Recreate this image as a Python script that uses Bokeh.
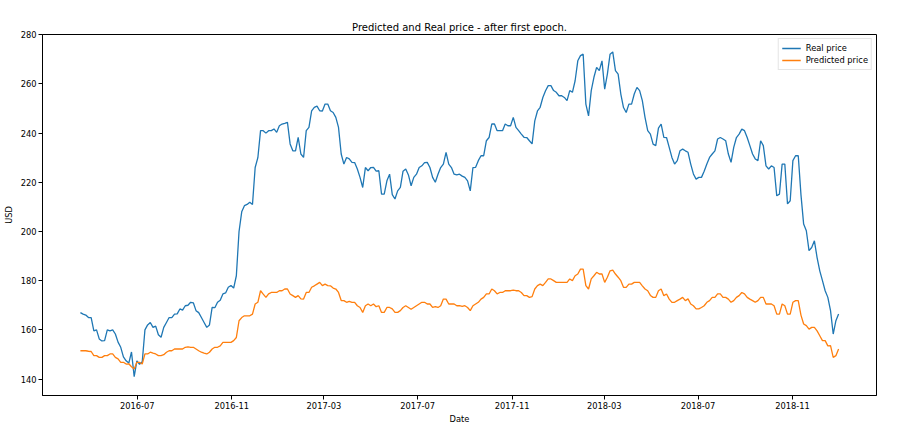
import pandas as pd
from bokeh.plotting import figure
from bokeh.models import Range1d, FixedTicker, DatetimeTickFormatter, Legend, LegendItem
from bokeh.embed import file_html
from bokeh.resources import INLINE

# ---- data (samples every 3.5 days) ----
start_date = "2016-04-18"
real_price = [
    167, 166.4, 166, 165, 165, 159.6, 160, 156.3, 155.5, 155.6,
    160, 159.6, 160, 158.3, 155, 152.9, 149, 147.4, 146.5, 151,
    141, 147.4, 146, 147, 160, 162, 163, 161, 161.5, 158,
    157, 161, 163, 165, 165, 166.4, 166.5, 168.5, 168, 169.8,
    170, 171.2, 171, 167.8, 167, 165, 163, 161, 162, 169.1,
    169, 171.2, 172, 174.6, 175, 177.3, 178, 177, 182, 200,
    208, 210.5, 211, 211.9, 211, 226, 230, 241, 241, 240,
    241, 241, 241.7, 240.3, 243, 243.7, 244, 244.4, 235.6, 232.8,
    232.8, 238.3, 231.5, 230.1, 241, 242.3, 249, 250.5, 251, 249.1,
    249, 251.8, 251.8, 249.1, 248.4, 246.4, 242.3, 231.5, 227.4, 230.1,
    229.5, 228.1, 228, 225.4, 222, 217.9, 226, 224.7, 226, 226.1,
    224.5, 224.7, 215.2, 215.2, 220.6, 223.3, 215, 213.2, 216.5, 217.9,
    224.5, 225.4, 223, 218.6, 222, 223.3, 226, 226.7, 228, 228.1,
    226, 222, 220, 223.3, 226, 227.4, 232.2, 227.4, 226, 223.3,
    223, 223.3, 222.5, 222, 220.6, 216.5, 226, 226.1, 228.8, 230.8,
    230.8, 236.9, 238.2, 243.7, 243.7, 241, 241, 241, 243.7, 243,
    243, 246.4, 242.3, 241, 239.6, 238.3, 238.2, 236.9, 235.6, 245,
    249, 250.5, 254.5, 257.2, 259.3, 259.3, 257.3, 256.6, 255.2, 255.2,
    254.5, 253.2, 257.3, 256.6, 261.3, 269.4, 271.5, 272.1, 251.8, 247,
    257.3, 262.7, 266.7, 265.4, 269.4, 257.9, 264, 272.1, 273, 265.4,
    264, 255.9, 250.4, 248.4, 251.8, 251.8, 255.9, 258.6, 257.3, 253.2,
    246.4, 241, 239.6, 235.5, 234.9, 242, 243.7, 238.3, 238.2, 234.2,
    230.1, 227.4, 228.8, 232.8, 233.5, 232.8, 232.2, 227.4, 223.4, 221.3,
    222, 222, 224.5, 227.4, 230.1, 231.5, 232.8, 237.6, 238.2, 237.6,
    236.9, 231.5, 228.1, 234.2, 238.2, 239.6, 241.6, 241, 238.2, 234.9,
    231.5, 229.5, 228.8, 236.9, 234.9, 226.7, 225.4, 226.7, 226, 214.5,
    215.2, 227.4, 227.4, 211.2, 212.5, 228.8, 230.8, 230.8, 215, 203,
    200.3, 192.2, 193.5, 196.2, 189.4, 184, 180, 175.9, 173.2, 167.8,
    158.3, 163.7, 166.4,
]
predicted_price = [
    151.5, 151.5, 151.5, 151.3, 151.2, 149.5, 149.5, 148.8, 148.8, 149.5,
    149.5, 150.2, 150.2, 148.8, 148.2, 146.8, 146.8, 146.1, 146.2, 145,
    144.1, 146.8, 146.8, 146.1, 150.2, 150.2, 150.9, 150.5, 150.2, 149.5,
    149.5, 149.9, 150.9, 151.5, 151.5, 152.2, 152.2, 152.2, 152.2, 152.9,
    153.1, 152.9, 152.9, 152.2, 151.5, 150.9, 150.5, 150.2, 150.9, 152.2,
    152.9, 152.9, 153.5, 154.9, 154.9, 154.9, 154.9, 155.6, 156.9, 163.7,
    165, 165.7, 165.7, 165.7, 166.4, 170.5, 171.2, 175.9, 174.5, 173.2,
    174.6, 175.2, 175.2, 175.2, 175.9, 175.9, 176.6, 176.6, 174.6, 173.9,
    173.2, 173.9, 172.6, 172.5, 175.2, 175.2, 177.3, 177.9, 178.6, 179.3,
    178, 178.6, 178, 177.9, 177, 176.6, 175.2, 171.9, 171.9, 171.2,
    171.6, 171.2, 171.2, 169.8, 169.1, 167.1, 169.8, 170.5, 169.8, 170.5,
    169.4, 169.8, 167.1, 167.1, 169.1, 169.1, 168.5, 167.1, 167.1, 167.8,
    169.1, 169.8, 169.1, 168.4, 169.1, 169.8, 170.5, 171.2, 171.2, 170.5,
    170.5, 169.1, 169.4, 169.1, 169.8, 172.5, 172.5, 170.5, 170.5, 170.5,
    169.8, 169.8, 169.5, 169.8, 169.1, 167.8, 169.8, 170.5, 171.2, 172.5,
    173.2, 174.6, 174.6, 176.6, 175.9, 174.6, 175.2, 175.2, 175.9, 175.9,
    175.9, 176.2, 175.9, 175.9, 175.2, 173.9, 173.9, 173.2, 173.5, 176.6,
    178, 178.6, 178, 179.3, 180.7, 180.7, 180, 179.3, 179.3, 179.3,
    179.3, 179.3, 180.7, 180, 182, 182.7, 184.7, 184.7, 178, 176.6,
    180.7, 182, 183.4, 182.7, 182.7, 179.3, 181.4, 184, 184.3, 182.7,
    181.4, 180, 177.3, 177.3, 178.6, 178.6, 179.3, 179.3, 179.3, 177.9,
    176.6, 175.9, 174, 173.2, 173.2, 175.9, 176.6, 173.9, 174.6, 172.5,
    171.2, 171.2, 171.9, 172.5, 173.2, 171.9, 172.6, 170.5, 169.8, 168.5,
    168.5, 169.1, 169.8, 171.2, 171.9, 173.2, 173.2, 174.6, 174.6, 173.2,
    173.2, 172.5, 171.2, 171.9, 173.2, 173.9, 175.2, 174.6, 173.2, 172.5,
    171.9, 171.2, 171.9, 173.2, 173.2, 170.5, 170.5, 170.5, 169.8, 166.4,
    166.4, 170.5, 169.8, 166.4, 166.4, 171.2, 171.9, 171.9, 166, 162.4,
    161.7, 160.3, 161, 161, 159.6, 157.6, 155.6, 155.6, 153.5, 153.6,
    148.8, 149.5, 152.2,
]
x_tick_labels = ["2016-07", "2016-11", "2017-03", "2017-07",
                 "2017-11", "2018-03", "2018-07", "2018-11"]
y_ticks = [140, 160, 180, 200, 220, 240, 260, 280]

dates = pd.date_range(start_date, periods=len(real_price), freq="84h")

FONT = "DejaVu Sans"

span = dates[-1] - dates[0]
pad = span * 0.05
x0 = dates[0] - pad
x1 = dates[-1] + pad

p = figure(
    width=910, height=427,
    x_axis_type="datetime",
    output_backend="svg", toolbar_location=None,
    min_border_left=41, min_border_right=34,
    min_border_top=34, min_border_bottom=32,
    x_range=Range1d(x0, x1), y_range=Range1d(133.3, 280.1),
    title="Predicted and Real price - after first epoch.",
)
p.background_fill_color = "white"
p.border_fill_color = "white"
p.grid.visible = False
p.outline_line_color = "black"
p.outline_line_width = 1
p.outline_line_alpha = 1

p.title.align = "center"
p.title.text_font = FONT
p.title.text_font_size = "10px"
p.title.text_font_style = "normal"
p.title.text_color = "black"
p.title.offset = 0
p.title.standoff = 4

r1 = p.line(dates, real_price, line_color="#1f77b4", line_width=1.3)
r2 = p.line(dates, predicted_price, line_color="#ff7f0e", line_width=1.3)

tick_ms = [pd.Timestamp(t + "-01").value / 1e6 for t in x_tick_labels]
p.xaxis.ticker = FixedTicker(ticks=tick_ms)
p.xaxis.formatter = DatetimeTickFormatter(days="%Y-%m", months="%Y-%m", years="%Y-%m")
p.yaxis.ticker = FixedTicker(ticks=y_ticks)

for ax in (p.xaxis, p.yaxis):
    ax.major_label_text_font = FONT
    ax.major_label_text_font_size = "8.3px"
    ax.major_label_text_color = "black"
    ax.axis_label_text_font = FONT
    ax.axis_label_text_font_size = "8.3px"
    ax.axis_label_text_font_style = "normal"
    ax.axis_label_text_color = "black"
    ax.minor_tick_line_color = None
    ax.major_tick_in = 0
    ax.major_tick_out = 4
    ax.major_tick_line_color = "black"
    ax.axis_line_color = "black"
    ax.major_label_standoff = 2

p.xaxis.axis_label = "Date"
p.yaxis.axis_label = "USD"
p.xaxis.axis_label_standoff = 2
p.yaxis.axis_label_standoff = 4

legend = Legend(items=[LegendItem(label="Real price", renderers=[r1]),
                       LegendItem(label="Predicted price", renderers=[r2])],
                location="top_right")
legend.margin = 4
legend.padding = 3
legend.spacing = 0
legend.label_height = 12
legend.glyph_height = 12
legend.glyph_width = 19
legend.label_standoff = 5
legend.label_text_font = FONT
legend.label_text_font_size = "8.3px"
legend.label_text_color = "black"
legend.border_line_color = "#cccccc"
legend.border_line_width = 1
legend.background_fill_alpha = 0.8
p.add_layout(legend)

open("out.html", "w").write(file_html(p, INLINE))
